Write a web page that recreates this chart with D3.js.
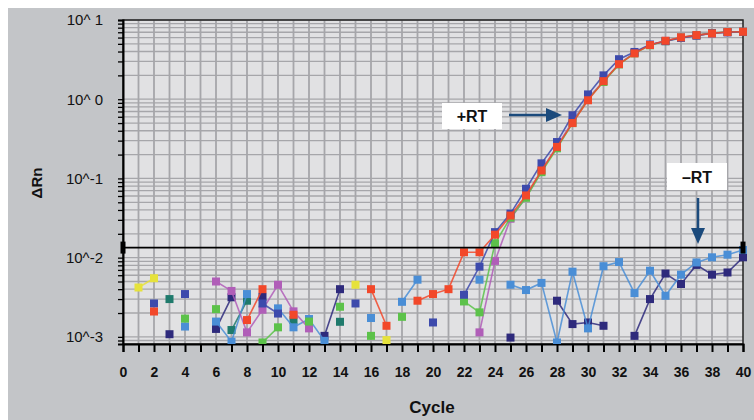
<!DOCTYPE html>
<html>
<head>
<meta charset="utf-8">
<script src="https://cdn.jsdelivr.net/npm/d3@7"></script>
<style>
  html, body { margin: 0; padding: 0; background: #fff; }
  svg { display: block; font-family: "Liberation Sans", Arial, Helvetica, sans-serif; }
</style>
</head>
<body>
<div id="chart"></div>
<script>
// cycles 1..40, null = no point (negative / not plotted)
const cycles = d3.range(1, 41);

const red = [null, 0.00209, null, null, null, null, null, 0.00163, 0.0040, null,
  0.0019, null, null, null, null, 0.0040, 0.00138, null, 0.00286, 0.00347,
  0.0040, 0.0117, 0.0117, 0.0195, 0.034, 0.061, 0.126, 0.25, 0.50, 0.97,
  1.69, 2.77, 3.79, 4.83, 5.47, 6.04, 6.45, 6.77, 7.05, 7.1];

const royal = [null, 0.00264, null, 0.00347, null, null, null, null, 0.00264, 0.00197,
  null, null, null, null, 0.00264, null, null, null, null, 0.00152,
  null, 0.0034, 0.0077, 0.021, 0.036, 0.074, 0.155, 0.288, 0.627, 1.15,
  2.0, 3.2, 3.95, 4.9, 5.4, 5.95, 6.35, 6.8, 7.0, 7.1];

const green = [null, null, null, 0.0017, null, 0.00224, null, null, 0.00085, 0.00132,
  null, 0.00156, null, 0.0024, null, 0.00103, null, 0.00179, null, null,
  null, 0.0028, 0.00204, 0.0152, 0.032, 0.057, 0.12, 0.24, 0.50, 1.0,
  1.65, 2.75, 3.8, 4.8, 5.4, 6.0, 6.4, 6.85, 7.05, 7.1];

const pink = [null, null, null, null, null, 0.0050, 0.0038, 0.00114, 0.0022, 0.00455,
  0.0021, 0.00128, null, null, null, null, null, null, null, null,
  null, null, 0.00114, 0.0091, 0.031, 0.058, 0.125, 0.255, 0.52, 1.02,
  1.7, 2.8, 3.85, 4.85, 5.45, 6.0, 6.4, 6.8, 7.0, 7.1];

const lightBlue = [null, null, null, 0.00135, null, 0.00156, 0.00087, 0.00347, null, 0.00229,
  0.00132, 0.00168, 0.00089, null, null, 0.00173, null, 0.00277, 0.00527, null,
  null, null, 0.00527, null, 0.00455, 0.0039, 0.0048, 0.00085, 0.00665, 0.00128,
  0.0078, 0.0088, 0.00357, 0.00684, 0.0033, 0.0061, 0.0087, 0.0101, 0.0109, 0.0125];

const navy = [null, null, 0.00108, null, null, 0.00126, 0.00316, null, 0.0032, null,
  null, null, 0.00103, 0.0040, null, null, null, null, null, null,
  null, null, null, null, 0.00098, null, null, 0.00286, 0.00145, 0.00152,
  0.00138, null, 0.00103, 0.0030, 0.0063, 0.00465, 0.0081, 0.0061, 0.0065, 0.0101];

const teal = [null, null, 0.0030, null, null, null, 0.00122, 0.00286, null, null,
  0.00163, null, null, 0.00155, null, null, null, null, null, null,
  null, null, null, null, null, null, null, null, null, null,
  null, null, null, null, null, null, null, null, null, null];

const yellow = [0.0042, 0.0055, null, null, null, null, null, null, null, null,
  null, null, null, null, 0.00455, null, 0.00091, null, null, null,
  null, null, null, null, null, null, null, null, null, null,
  null, null, null, null, null, null, null, null, null, null];

const threshold = 0.0134;
const yTickLabels = {"10": "10^ 1", "1": "10^ 0", "0.1": "10^-1", "0.01": "10^-2", "0.001": "10^-3"};

const seriesList = [
  {name: "yellow", values: yellow, color: "#e6e23c"},
  {name: "teal", values: teal, color: "#1f7a6c"},
  {name: "navy", values: navy, color: "#2e2a7c"},
  {name: "lightBlue", values: lightBlue, color: "#4a8ed6"},
  {name: "pink", values: pink, color: "#b05eb8"},
  {name: "green", values: green, color: "#5cc24a"},
  {name: "royal", values: royal, color: "#3d4aac"},
  {name: "red", values: red, color: "#f2482a"}
];

const W = 754, H = 420;
const plot = {left: 123, right: 743, top: 20, bottom: 344};

const svg = d3.select("#chart").append("svg")
  .attr("width", W)
  .attr("height", H);

// grey panel
svg.append("rect")
  .attr("x", 8).attr("y", 8)
  .attr("width", W - 8).attr("height", H - 8)
  .attr("fill", "#c3c5c8");

const x = d3.scaleLinear().domain([0, 40]).range([plot.left, plot.right]);
const y = d3.scaleLog().domain([Math.pow(10, -3.09), 10]).range([plot.bottom, plot.top]);

svg.append("rect")
  .attr("x", plot.left).attr("y", plot.top)
  .attr("width", plot.right - plot.left).attr("height", plot.bottom - plot.top)
  .attr("fill", "#e1e1e3");

// log minor positions
const minor = [];
for (let k = -4; k <= 1; k++) {
  for (let m = 1; m <= 9; m++) {
    const v = m * Math.pow(10, k);
    if (v >= y.domain()[0] && v <= 10.0001) minor.push(v);
  }
}

const grid = svg.append("g");
grid.selectAll("line.h")
  .data(minor)
  .enter().append("line")
    .attr("x1", plot.left).attr("x2", plot.right)
    .attr("y1", d => y(d)).attr("y2", d => y(d))
    .attr("stroke", "#a6a6aa")
    .attr("stroke-width", 1.3);
grid.selectAll("line.v")
  .data(d3.range(1, 40))
  .enter().append("line")
    .attr("x1", d => x(d)).attr("x2", d => x(d))
    .attr("y1", plot.top).attr("y2", plot.bottom)
    .attr("stroke", "#a6a6aa")
    .attr("stroke-width", 1.8);

// frame
svg.append("rect")
  .attr("x", plot.left).attr("y", plot.top)
  .attr("width", plot.right - plot.left).attr("height", plot.bottom - plot.top)
  .attr("fill", "none")
  .attr("stroke", "#222")
  .attr("stroke-width", 1.5);

// axes
const xAxis = svg.append("g")
  .attr("transform", `translate(0, ${plot.bottom})`)
  .call(d3.axisBottom(x)
    .tickValues(d3.range(0, 41))
    .tickSize(8)
    .tickPadding(15)
    .tickFormat(d => d % 2 === 0 ? d : ""));
xAxis.select(".domain").attr("stroke", "#000").attr("stroke-width", 2);
xAxis.selectAll(".tick line").attr("stroke", "#000").attr("stroke-width", 2);
xAxis.selectAll("text")
  .style("font-size", "14px")
  .style("font-weight", "bold")
  .attr("fill", "#111");

const yAxis = svg.append("g")
  .attr("transform", `translate(${plot.left}, 0)`)
  .call(d3.axisLeft(y)
    .tickValues(minor)
    .tickSize(5)
    .tickPadding(15)
    .tickFormat(d => yTickLabels[String(+d.toPrecision(3))] || ""));
yAxis.select(".domain").attr("stroke", "#000").attr("stroke-width", 2);
yAxis.selectAll(".tick line").attr("stroke", "#000").attr("stroke-width", 1.3);
yAxis.selectAll("text")
  .style("font-size", "15px")
  .attr("fill", "#111");

// axis titles
svg.append("text")
  .attr("x", 432).attr("y", 413)
  .attr("text-anchor", "middle")
  .style("font-size", "17px")
  .style("font-weight", "bold")
  .attr("fill", "#111")
  .text("Cycle");

svg.append("text")
  .attr("transform", "translate(42, 183) rotate(-90)")
  .attr("text-anchor", "middle")
  .style("font-size", "15px")
  .style("font-weight", "bold")
  .attr("fill", "#111")
  .text("ΔRn");

// data
svg.append("clipPath").attr("id", "clip")
  .append("rect")
    .attr("x", plot.left).attr("y", plot.top - 4)
    .attr("width", plot.right - plot.left + 4).attr("height", plot.bottom - plot.top + 4);

const line = d3.line()
  .defined(d => d.v != null)
  .x(d => x(d.c))
  .y(d => y(d.v));

const dataG = svg.append("g").attr("clip-path", "url(#clip)");
seriesList.forEach(s => {
  const pts = cycles.map((c, i) => ({c: c, v: s.values[i]}));
  dataG.append("path")
    .datum(pts)
    .attr("d", line)
    .attr("fill", "none")
    .attr("stroke", s.color)
    .attr("stroke-width", 1.6)
    .attr("opacity", 0.85);
  dataG.selectAll(null)
    .data(pts.filter(d => d.v != null))
    .enter().append("rect")
      .attr("x", d => x(d.c) - 4)
      .attr("y", d => y(d.v) - 4)
      .attr("width", 8).attr("height", 8)
      .attr("fill", s.color);
});

// threshold
svg.append("line")
  .attr("x1", plot.left).attr("x2", plot.right)
  .attr("y1", y(threshold)).attr("y2", y(threshold))
  .attr("stroke", "#000")
  .attr("stroke-width", 1.8);
[plot.left, plot.right].forEach(px => {
  svg.append("rect")
    .attr("x", px - 2.5).attr("y", y(threshold) - 6)
    .attr("width", 5).attr("height", 12)
    .attr("fill", "#000");
});

// annotations
const arrowColor = "#1b4a7c";
function label(x0, y0, w, h, txt) {
  svg.append("rect")
    .attr("x", x0).attr("y", y0).attr("width", w).attr("height", h)
    .attr("fill", "#fff");
  svg.append("text")
    .attr("x", x0 + w / 2).attr("y", y0 + h / 2 + 6)
    .attr("text-anchor", "middle")
    .style("font-size", "16px")
    .style("font-weight", "bold")
    .attr("fill", "#111")
    .text(txt);
}
label(442, 103, 60, 26, "+RT");
label(667, 163, 60, 27, "\u2013RT");

svg.append("line")
  .attr("x1", 509).attr("x2", 548).attr("y1", 115).attr("y2", 115)
  .attr("stroke", arrowColor).attr("stroke-width", 2.5);
svg.append("path")
  .attr("d", "M546,108 L562,115 L546,122 Z")
  .attr("fill", arrowColor);

svg.append("line")
  .attr("x1", 698).attr("x2", 698).attr("y1", 198).attr("y2", 230)
  .attr("stroke", arrowColor).attr("stroke-width", 2.5);
svg.append("path")
  .attr("d", "M691,228 L698,244 L705,228 Z")
  .attr("fill", arrowColor);
</script>
</body>
</html>
